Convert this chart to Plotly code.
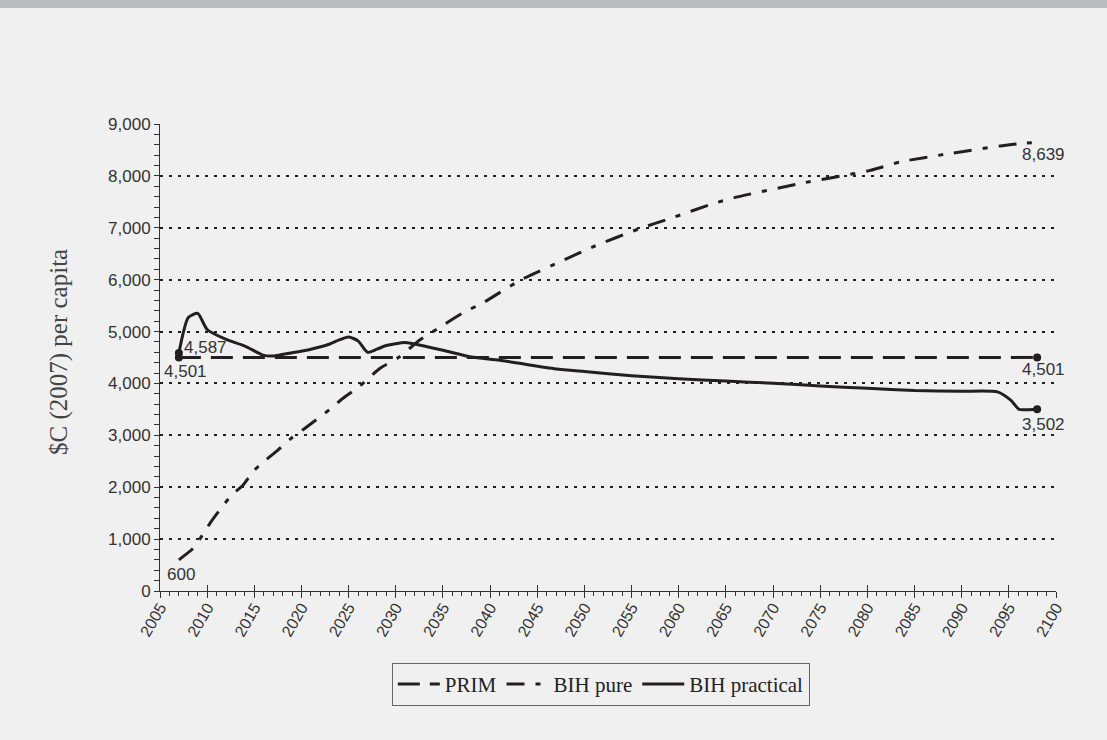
import plotly.graph_objects as go

# ---- data ----
prim_years = [2007, 2098]
prim_values = [4501, 4501]

pure_years = [2007, 2008.5, 2009.5, 2010.4, 2011.5, 2012.6, 2013.8, 2015, 2016.2, 2017.5,
              2018.9, 2020.2, 2023, 2024.3, 2026.2, 2028.3, 2030.4, 2032.5, 2034.3, 2037.1,
              2039.3, 2043.2, 2047.8, 2050.9, 2055.9, 2059.1, 2063.7, 2065.8, 2072.9, 2080.3,
              2083.5, 2088.8, 2094.1, 2096.6, 2098]
pure_values = [600, 820, 1077, 1334, 1603, 1848, 2040, 2329, 2522, 2715,
               2940, 3114, 3500, 3700, 3950, 4289, 4513, 4834, 5040, 5360,
               5560, 5990, 6376, 6632, 6987, 7179, 7468, 7576, 7855, 8106,
               8270, 8432, 8578, 8630, 8639]

prac_years = [2007, 2008, 2009, 2010, 2012, 2014, 2016, 2017, 2019, 2021, 2023, 2024, 2025,
              2026, 2027, 2028, 2029, 2031, 2033, 2035, 2038, 2041, 2044, 2047, 2050, 2055,
              2060, 2065, 2070, 2075, 2080, 2085, 2090, 2093.8, 2095.2, 2096.1, 2097, 2098]
prac_values = [4587, 5270, 5350, 5040, 4850, 4720, 4540, 4530, 4590, 4660, 4760, 4840, 4895,
               4820, 4600, 4660, 4730, 4790, 4720, 4640, 4510, 4449, 4360, 4280, 4230, 4150,
               4090, 4045, 4005, 3950, 3905, 3865, 3850, 3838, 3678, 3499, 3495, 3502]

x_ticks = list(range(2005, 2101, 5))
ink = "#231f20"
bg = "#f0f0f0"

fig = go.Figure()
fig.add_trace(go.Scatter(x=prim_years, y=prim_values, mode="lines", name="PRIM",
                         line=dict(color=ink, width=3, dash="22px,10px")))
fig.add_trace(go.Scatter(x=pure_years, y=pure_values, mode="lines", name="BIH pure",
                         line=dict(color=ink, width=3, dash="18px,11px,5px,11px", shape="spline", smoothing=0.6)))
fig.add_trace(go.Scatter(x=prac_years, y=prac_values, mode="lines", name="BIH practical",
                         line=dict(color=ink, width=3, shape="spline", smoothing=0.6)))
# end markers
fig.add_trace(go.Scatter(x=[prim_years[0], prim_years[-1], prac_years[0], prac_years[-1]],
                         y=[prim_values[0], prim_values[-1], prac_values[0], prac_values[-1]],
                         mode="markers", marker=dict(color=ink, size=8), showlegend=False,
                         hoverinfo="skip"))

lab_font = dict(family="Liberation Sans, Arial, sans-serif", size=17, color="#333333")
labels = [
    (prac_years[0], prac_values[0], prac_values[0], 3, 5),
    (prim_years[0], prim_values[0], prim_values[0], -17, -14),
    (pure_years[0], pure_values[0], pure_values[0], -14, -15),
    (pure_years[-1], pure_values[-1], pure_values[-1], -17, -12),
    (prim_years[-1], prim_values[-1], prim_values[-1], -17, -12),
    (prac_years[-1], prac_values[-1], prac_values[-1], -17, -15),
]
for x, y, v, xs, ys in labels:
    fig.add_annotation(x=x, y=y, xref="x", yref="y", text=f"{v:,}", showarrow=False,
                       xanchor="left", yanchor="middle", xshift=xs, yshift=ys, font=lab_font)

fig.add_annotation(text="$C (2007) per capita", xref="paper", yref="paper",
                   x=(59 - 160) / 896, y=(591 - 352) / 467, textangle=-90, showarrow=False,
                   xanchor="center", yanchor="middle",
                   font=dict(family="Liberation Serif, Times New Roman, serif", size=25, color="#444444"))

fig.add_shape(type="rect", xref="paper", yref="paper", x0=-0.3, x1=1.2,
              y0=1 + (124 - 8) / 467, y1=1 + 130 / 467, fillcolor="#bbbcbd", line_width=0, layer="below")

fig.update_layout(
    width=1107, height=740,
    paper_bgcolor=bg, plot_bgcolor=bg,
    margin=dict(l=160, r=51, t=124, b=149),
    showlegend=True,
    legend=dict(orientation="h", x=0.492, xanchor="center", y=-0.154, yanchor="top",
                bgcolor=bg, bordercolor="#666666", borderwidth=1,
                font=dict(family="Liberation Serif, Times New Roman, serif", size=21, color="#222222"),
                itemwidth=42, tracegroupgap=0),
    xaxis=dict(range=[2005, 2100], tickmode="array", tickvals=x_ticks, ticktext=[str(t) for t in x_ticks],
               tickangle=-60, ticks="inside", ticklen=6, tickwidth=1, tickcolor="#333",
               showline=True, linecolor="#333", linewidth=1, showgrid=False, zeroline=False,
               minor=dict(dtick=1, ticks="outside", ticklen=4, tickcolor="#333", tickwidth=1),
               tickfont=dict(family="Liberation Sans, Arial, sans-serif", size=16, color="#333333")),
    xaxis2=dict(range=[2005, 2100], overlaying="x", anchor="y", side="bottom", tickmode="array",
                tickvals=x_ticks, ticks="outside", ticklen=6, tickcolor="#333", showticklabels=False,
                showgrid=False, zeroline=False, showline=False),
    yaxis=dict(range=[0, 9000], dtick=1000, tickformat=",d", ticks="outside", ticklen=5,
               tickcolor="#333", showline=True, linecolor="#333", linewidth=1,
               showgrid=True, gridcolor="#231f20", gridwidth=2, griddash="3px,6px", zeroline=False,
               minor=dict(dtick=200, ticks="outside", ticklen=5, tickcolor="#333", showgrid=False),
               tickfont=dict(family="Liberation Sans, Arial, sans-serif", size=17, color="#333333")),
)
fig.add_trace(go.Scatter(x=[2005], y=[None], xaxis="x2", showlegend=False, hoverinfo="skip"))

fig.write_html("out.html", config={"displayModeBar": False},
               post_script="document.body.style.margin='0px';")
